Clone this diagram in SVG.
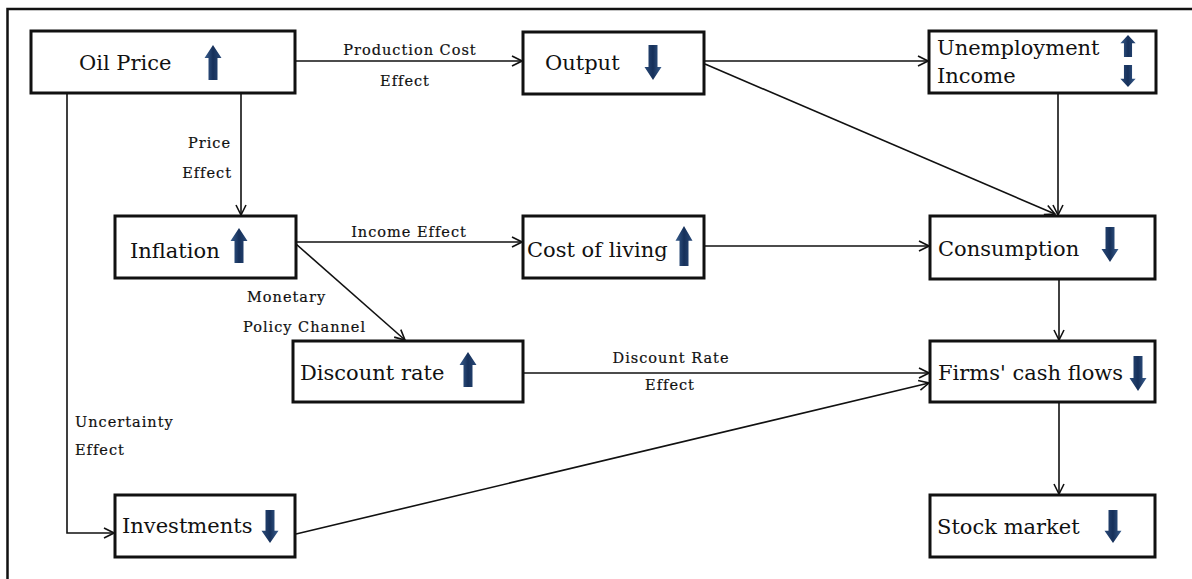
<svg xmlns="http://www.w3.org/2000/svg" width="1192" height="579" viewBox="0 0 1192 579">
<style>
.bg{fill:#ffffff}
.frame{fill:none;stroke:#111;stroke-width:2.5}
.box{fill:#fff;stroke:#111;stroke-width:3}
.t{font-family:"DejaVu Serif","Liberation Serif",serif;font-size:21px;fill:#111}
.lbl{font-family:"DejaVu Serif","Liberation Serif",serif;font-size:14.5px;fill:#111;letter-spacing:1px;stroke:#111;stroke-width:0.2}
.con{fill:none;stroke:#111;stroke-width:1.6}
.ar{fill:url(#ag)}
</style>
<defs>
<linearGradient id="ag" x1="0" y1="0" x2="1" y2="0">
<stop offset="0" stop-color="#3a5f8f"/>
<stop offset="0.5" stop-color="#16305a"/>
<stop offset="1" stop-color="#2a4a78"/>
</linearGradient>
<path id="up" d="M0,0 L8.5,13 L4.5,13 L4.5,35 L-4.5,35 L-4.5,13 L-8.5,13 Z"/>
<marker id="m" viewBox="0 0 12 12" refX="11" refY="6" markerWidth="12" markerHeight="12" markerUnits="userSpaceOnUse" orient="auto">
<path d="M1,1 L11,6 L1,11" fill="none" stroke="#111" stroke-width="1.6"/>
</marker>
</defs>
<rect class="bg" x="0" y="0" width="1192" height="579"/>
<path class="frame" d="M7.5,600 L7.5,9 L1200,9"/>

<g id="connectors">
<line class="con" x1="295" y1="61" x2="522" y2="61" marker-end="url(#m)"/>
<line class="con" x1="704" y1="61" x2="928" y2="61" marker-end="url(#m)"/>
<line class="con" x1="705" y1="64" x2="1055" y2="214" marker-end="url(#m)"/>
<line class="con" x1="1058" y1="93" x2="1058" y2="215" marker-end="url(#m)"/>
<line class="con" x1="241" y1="93" x2="241" y2="215" marker-end="url(#m)"/>
<polyline class="con" points="67,93 67,533 114,533" marker-end="url(#m)"/>
<line class="con" x1="296" y1="242" x2="522" y2="242" marker-end="url(#m)"/>
<line class="con" x1="296" y1="244" x2="405" y2="340" marker-end="url(#m)"/>
<line class="con" x1="704" y1="246" x2="929" y2="246" marker-end="url(#m)"/>
<line class="con" x1="1059" y1="279" x2="1059" y2="340" marker-end="url(#m)"/>
<line class="con" x1="523" y1="373" x2="929" y2="373" marker-end="url(#m)"/>
<line class="con" x1="296" y1="534" x2="929" y2="383" marker-end="url(#m)"/>
<line class="con" x1="1059" y1="402" x2="1059" y2="494" marker-end="url(#m)"/>
<text class="lbl" x="410" y="55" text-anchor="middle">Production Cost</text>
<text class="lbl" x="405" y="86" text-anchor="middle">Effect</text>
<text class="lbl" x="231" y="148" text-anchor="end">Price</text>
<text class="lbl" x="232" y="178" text-anchor="end">Effect</text>
<text class="lbl" x="409" y="237" text-anchor="middle">Income Effect</text>
<text class="lbl" x="247" y="302">Monetary</text>
<text class="lbl" x="243" y="332">Policy Channel</text>
<text class="lbl" x="671" y="363" text-anchor="middle">Discount Rate</text>
<text class="lbl" x="670" y="390" text-anchor="middle">Effect</text>
<text class="lbl" x="75" y="427">Uncertainty</text>
<text class="lbl" x="75" y="455">Effect</text>
</g>

<g id="oil-price">
<rect class="box" x="31" y="31" width="264" height="62"/>
<text class="t" x="79" y="70">Oil Price</text>
<use href="#up" class="ar" transform="translate(213,45)"/>
</g>
<g id="output">
<rect class="box" x="523" y="32" width="181" height="62"/>
<text class="t" x="545" y="70">Output</text>
<use href="#up" class="ar" transform="translate(653,80) rotate(180)"/>
</g>
<g id="unemployment-income">
<rect class="box" x="929" y="31" width="227" height="62"/>
<text class="t" x="937" y="55">Unemployment</text>
<text class="t" x="937" y="83">Income</text>
<use href="#up" class="ar" transform="translate(1128,35) scale(0.9,0.63)"/>
<use href="#up" class="ar" transform="translate(1128,87) rotate(180) scale(0.9,0.63)"/>
</g>
<g id="inflation">
<rect class="box" x="115" y="216" width="181" height="62"/>
<text class="t" x="130" y="258">Inflation</text>
<use href="#up" class="ar" transform="translate(239,228)"/>
</g>
<g id="cost-of-living">
<rect class="box" x="523" y="216" width="181" height="62"/>
<text class="t" x="527" y="257">Cost of living</text>
<use href="#up" class="ar" transform="translate(684,226) scale(1,1.14)"/>
</g>
<g id="consumption">
<rect class="box" x="930" y="216" width="225" height="63"/>
<text class="t" x="938" y="256">Consumption</text>
<use href="#up" class="ar" transform="translate(1110,262) rotate(180)"/>
</g>
<g id="discount-rate">
<rect class="box" x="293" y="341" width="230" height="61"/>
<text class="t" x="300" y="380">Discount rate</text>
<use href="#up" class="ar" transform="translate(468,352)"/>
</g>
<g id="firms-cash-flows">
<rect class="box" x="930" y="341" width="225" height="61"/>
<text class="t" x="938" y="380">Firms' cash flows</text>
<use href="#up" class="ar" transform="translate(1138,391) rotate(180)"/>
</g>
<g id="investments">
<rect class="box" x="115" y="495" width="180" height="62"/>
<text class="t" x="122" y="533">Investments</text>
<use href="#up" class="ar" transform="translate(270,543) rotate(180) scale(1,0.94)"/>
</g>
<g id="stock-market">
<rect class="box" x="930" y="495" width="225" height="62"/>
<text class="t" x="937" y="534">Stock market</text>
<use href="#up" class="ar" transform="translate(1113,543) rotate(180) scale(1,0.94)"/>
</g>
</svg>
